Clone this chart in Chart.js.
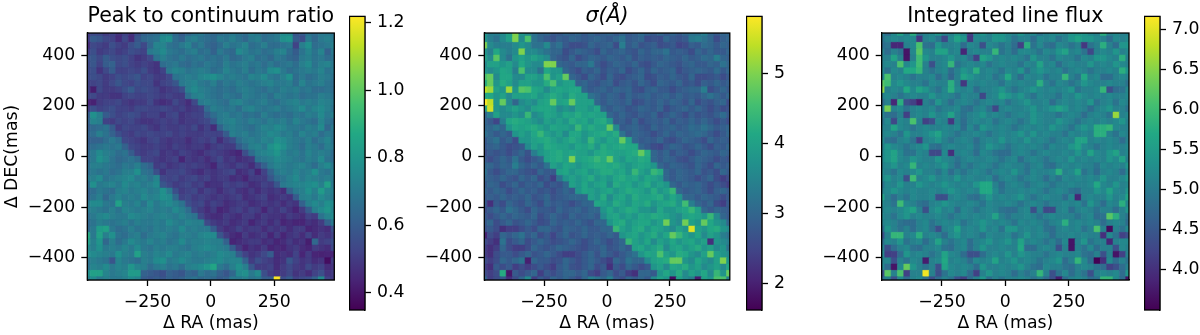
<!DOCTYPE html>
<html>
<head>
<meta charset="utf-8">
<title>Line maps</title>
<script src="https://cdn.jsdelivr.net/npm/chart.js@4"></script>
<style>
    body { margin: 0; background: #fff; }
    #page { position: relative; width: 1200px; height: 335px; overflow: hidden; }
    canvas { position: absolute; top: 0; }
</style>
</head>
<body>
<div id="page"></div>
<script>
// Cell values, top row first. Ratio is in hundredths, sigma and flux in tenths.
const ratioRows = [
[50,54,54,50,52,48,52,48,56,62,64,66,72,72,64,60,64,68,70,66,64,66,68,70,68,66,72,70,66,68,70,76,76,58,60,68,66,70,70,68],
[50,60,58,54,52,46,54,46,58,64,66,68,76,78,66,62,70,72,68,66,64,70,68,72,68,64,70,72,66,68,70,78,80,60,56,70,64,70,72,70],
[46,54,52,50,56,52,50,56,60,54,64,74,74,68,66,70,74,66,70,64,62,66,72,68,70,74,66,68,72,66,66,68,70,52,72,78,66,68,70,72],
[50,56,50,52,54,50,52,56,54,52,70,72,76,70,68,66,70,72,66,68,62,70,66,64,76,72,68,70,66,68,72,74,66,60,68,74,68,74,62,70],
[56,58,54,60,56,54,56,52,48,50,54,68,72,68,66,70,66,68,70,66,68,66,70,64,66,70,72,66,68,64,70,68,64,62,70,72,68,70,66,68],
[54,58,52,60,62,54,56,52,50,52,50,48,66,68,70,66,64,68,66,70,68,66,72,68,70,72,68,70,66,70,66,68,70,66,72,76,68,72,74,70],
[54,56,48,54,60,52,52,54,52,56,50,48,52,70,74,72,68,70,72,70,66,68,74,70,68,72,66,70,68,76,78,70,66,68,70,72,70,74,68,70],
[54,56,54,50,52,56,54,56,58,52,54,50,50,54,68,70,72,70,74,76,78,74,70,72,70,68,74,72,76,70,68,72,78,66,70,66,68,72,70,68],
[52,52,54,50,54,58,54,52,56,54,54,48,52,54,58,70,72,74,70,68,72,66,70,68,72,70,68,70,72,74,70,70,72,66,74,68,70,72,68,66],
[52,42,54,50,50,52,56,60,54,56,54,52,48,50,52,56,72,76,72,70,68,66,68,66,70,72,70,68,66,70,68,72,70,72,68,70,66,66,68,66],
[52,54,50,50,48,48,52,54,52,52,54,52,50,52,50,50,66,72,74,70,68,66,70,68,66,72,70,68,70,66,72,70,68,70,66,68,68,72,70,68],
[44,43,50,52,52,54,50,48,50,50,54,48,46,48,54,50,46,54,70,72,70,68,66,72,74,70,68,70,72,68,66,70,72,74,70,72,70,74,72,70],
[50,56,52,54,56,52,52,50,54,54,52,52,54,52,50,52,48,50,52,66,72,70,68,70,66,72,74,70,68,70,72,68,70,72,76,70,74,76,72,68],
[60,78,72,60,56,52,54,56,54,50,52,52,48,52,54,48,50,52,52,60,66,70,72,68,70,66,68,66,72,68,66,68,66,70,68,72,70,76,70,72],
[62,74,72,52,50,54,52,54,50,48,48,50,52,50,52,48,50,50,52,54,60,70,72,74,70,68,72,70,68,72,70,72,68,74,70,68,66,74,68,66],
[60,64,66,68,60,50,54,52,52,54,50,48,52,50,50,52,50,54,48,52,46,62,70,72,70,68,66,70,74,72,76,74,70,70,68,72,70,76,64,70],
[62,66,72,68,62,56,52,50,54,52,54,52,52,54,50,52,50,50,50,52,52,52,60,72,70,72,68,70,72,76,74,70,72,68,74,70,72,66,70,68],
[60,62,62,66,70,66,54,52,50,48,52,54,50,48,50,50,46,50,52,50,54,46,52,56,66,70,72,70,74,72,78,76,72,70,68,72,66,70,74,68],
[62,66,68,70,68,70,62,54,52,50,50,52,50,48,52,50,48,50,50,46,50,52,50,50,60,66,72,74,70,78,82,78,72,70,66,72,70,66,72,70],
[64,70,76,72,70,66,68,60,52,50,52,54,48,50,48,52,50,48,46,50,52,50,48,46,44,56,66,72,74,76,80,74,70,72,68,74,70,72,70,66],
[64,70,78,74,68,64,66,68,64,52,52,50,48,50,52,44,50,48,50,46,50,54,48,50,46,48,50,68,70,72,76,74,72,70,68,72,70,76,68,66],
[66,72,72,70,68,66,70,68,72,66,62,50,52,48,50,52,50,52,50,48,44,52,50,48,52,50,46,54,62,70,74,72,70,72,74,70,66,72,76,70],
[66,70,68,70,66,68,72,72,78,68,66,56,48,52,52,54,50,48,46,50,48,50,52,54,46,48,52,44,52,62,70,72,70,74,70,72,78,70,68,72],
[70,72,76,68,70,72,74,76,70,72,68,74,54,52,54,50,52,54,50,52,48,50,50,46,48,44,50,50,50,58,66,68,72,76,70,74,72,70,72,70],
[66,78,70,72,74,70,76,72,74,70,72,76,58,54,50,52,54,50,52,46,48,48,52,50,52,50,46,48,52,50,58,70,72,74,74,76,78,72,84,70],
[62,66,70,68,66,72,74,70,72,74,70,72,78,70,56,50,52,54,48,52,50,46,50,52,48,46,50,46,50,48,50,46,62,70,72,78,72,82,74,72],
[62,68,72,64,70,74,70,72,70,76,72,74,78,76,64,52,54,50,52,50,48,50,48,50,52,46,48,50,52,46,48,50,48,60,72,74,70,76,72,70],
[70,76,76,70,68,84,72,70,74,68,76,70,74,76,72,68,56,52,54,48,52,50,46,48,50,50,46,48,50,48,50,46,50,48,62,72,76,72,78,76],
[70,72,70,68,72,68,74,72,70,72,74,70,72,70,76,72,66,54,50,46,50,44,46,50,52,48,52,50,44,50,48,52,48,44,50,60,72,76,80,74],
[66,70,74,76,72,70,70,76,74,72,70,72,74,72,70,74,70,68,54,48,46,46,50,48,46,50,50,46,50,48,48,46,50,48,46,52,50,68,74,76],
[64,68,72,70,68,70,72,68,72,70,70,72,70,76,72,70,74,72,72,54,50,48,50,46,48,50,44,48,50,46,50,44,46,44,44,48,46,50,62,70],
[64,70,82,84,70,66,68,72,68,70,68,72,70,72,70,76,70,72,70,70,60,50,46,48,52,48,50,50,46,50,48,50,46,50,50,44,46,48,46,56],
[88,70,84,72,78,68,66,70,72,66,70,72,74,70,68,72,72,70,74,76,76,58,50,46,44,50,46,48,50,44,50,44,48,50,46,52,46,50,48,52],
[84,72,80,64,72,66,70,76,72,70,74,70,72,68,70,76,70,72,72,74,72,72,62,44,46,48,50,50,46,48,44,46,50,46,48,42,64,50,52,56],
[76,72,78,70,72,70,74,70,76,70,68,72,70,72,72,70,68,72,74,76,74,72,70,60,50,44,48,46,50,44,46,44,48,50,46,44,50,48,46,54],
[78,76,74,72,70,78,72,70,84,72,70,74,72,76,70,72,74,70,72,70,72,76,74,72,60,52,48,50,54,60,46,48,46,52,44,50,44,43,44,44],
[68,72,70,68,58,74,70,68,66,72,70,76,78,70,72,76,72,70,70,72,74,76,72,74,74,62,50,56,52,50,46,48,58,52,48,50,46,48,38,50],
[68,74,72,76,70,74,72,80,74,72,66,70,72,68,70,66,72,74,76,80,86,70,66,72,78,72,58,50,50,52,46,50,54,50,48,54,50,52,46,48],
[78,84,84,74,70,72,74,82,82,62,60,58,56,62,60,58,64,62,70,66,68,62,58,64,76,78,70,76,56,50,48,50,54,48,50,46,52,56,48,50],
[72,76,70,72,70,70,72,76,74,60,58,60,58,62,60,62,66,68,64,66,64,60,62,70,70,72,68,70,60,60,122,56,60,52,54,56,62,76,52,50]
];
const sigmaRows = [
[38,34,34,36,40,50,38,36,32,30,30,28,28,30,29,30,28,30,28,29,30,28,30,28,29,31,29,28,30,28,30,28,30,32,32,34,30,28,30,30],
[38,34,32,36,40,50,36,46,32,30,28,27,29,28,30,29,28,29,30,29,28,30,32,28,29,30,26,27,26,30,28,27,28,33,34,32,30,26,29,30],
[50,36,34,34,34,36,38,36,32,32,36,30,32,28,26,26,27,30,28,29,30,26,34,28,30,27,28,29,26,27,28,25,26,29,28,31,30,28,30,29],
[38,34,41,36,34,36,50,36,36,34,32,30,30,26,28,30,29,28,26,30,28,29,30,28,27,30,28,30,30,32,28,29,28,26,30,28,30,28,28,30],
[40,36,47,36,32,38,40,38,40,38,36,30,28,27,30,26,28,30,29,28,30,29,28,30,27,29,28,29,28,30,29,28,30,28,29,31,30,34,30,29],
[36,40,40,38,40,36,41,38,36,36,50,50,30,29,28,30,30,33,28,26,28,30,29,28,30,27,26,28,30,29,28,27,29,30,28,28,30,29,32,30],
[38,36,38,41,40,34,46,36,36,32,41,38,38,30,28,26,29,28,30,27,29,28,30,26,28,30,27,30,28,29,30,26,28,29,30,29,28,31,28,30],
[46,48,36,41,41,36,36,40,40,38,46,38,40,48,30,28,26,30,28,26,30,27,26,28,29,30,26,27,29,28,30,28,27,30,26,26,27,28,26,28],
[42,48,38,42,40,36,40,40,38,38,42,46,38,40,40,29,30,28,27,29,30,26,28,29,27,30,28,26,30,29,28,30,27,28,26,29,28,30,28,29],
[54,52,40,38,52,38,47,46,41,40,36,40,41,40,41,41,30,28,29,30,28,30,29,30,27,26,29,30,28,28,26,28,29,30,30,34,26,28,30,28],
[41,41,38,40,36,40,40,40,41,38,40,42,40,38,42,40,40,32,30,28,30,29,27,30,28,29,30,28,29,30,28,30,28,29,28,30,32,30,28,30],
[58,54,38,48,36,30,36,38,36,40,41,48,40,41,48,40,40,40,30,28,30,29,28,30,26,27,29,28,30,28,30,29,27,30,26,28,27,29,30,26],
[40,55,38,36,38,40,38,36,40,41,41,40,36,38,36,40,40,38,41,30,28,30,29,27,28,30,29,28,30,26,28,29,30,28,30,28,26,28,26,27],
[30,34,40,36,36,38,36,44,36,38,41,40,38,41,40,42,40,41,40,40,30,28,30,28,27,29,28,30,26,28,30,28,26,29,27,28,27,29,31,28],
[30,28,25,34,41,42,41,40,38,36,40,38,40,38,42,40,41,38,41,42,38,28,29,27,30,26,28,29,28,30,27,29,28,30,28,30,28,26,28,26],
[30,30,32,30,38,41,40,41,42,40,38,41,40,40,38,44,40,42,40,40,48,36,28,29,30,28,27,30,28,29,30,28,29,31,30,32,30,28,29,30],
[32,30,28,30,28,38,40,38,41,44,40,38,40,36,41,41,38,40,41,42,40,42,32,28,30,29,28,26,28,30,28,30,29,30,31,30,28,26,28,30],
[28,30,32,28,30,26,38,38,40,41,42,40,38,40,42,40,38,44,40,38,41,40,48,40,30,28,29,28,30,27,26,28,30,29,28,26,30,28,29,28],
[28,29,30,28,26,27,28,36,40,38,42,41,40,40,38,41,40,42,38,42,40,41,42,41,41,30,28,26,25,28,30,29,27,28,30,28,26,29,28,30],
[26,28,27,28,26,28,30,27,34,38,40,41,42,40,41,40,40,38,41,42,41,40,40,41,42,48,42,30,28,30,27,29,28,26,28,30,29,28,30,29],
[28,26,28,30,28,32,28,26,28,30,40,41,42,40,50,40,41,42,44,42,48,40,38,41,40,42,41,30,28,30,29,27,26,28,30,29,28,26,28,27],
[30,30,28,30,29,34,30,28,30,28,32,40,38,41,40,38,40,41,42,42,41,42,40,38,40,41,40,38,30,28,30,29,28,27,30,28,26,30,28,29],
[32,28,26,28,30,30,28,27,26,30,28,28,40,41,38,40,41,38,40,42,42,40,41,38,44,40,38,44,42,30,28,30,29,28,30,27,28,26,30,28],
[30,29,28,30,28,27,30,28,30,26,28,24,32,38,40,38,40,42,38,40,38,41,42,40,41,38,41,40,38,30,28,30,29,28,26,28,30,26,24,26],
[28,30,29,26,28,30,27,29,28,30,26,28,27,30,40,38,41,38,40,41,36,42,40,41,38,40,42,38,40,38,30,28,30,29,30,28,26,28,26,24],
[30,28,30,29,26,28,30,28,29,27,28,26,28,30,28,38,41,40,38,40,41,38,40,42,41,40,38,42,38,40,44,30,28,29,30,28,26,29,30,28],
[28,29,28,30,28,29,28,30,27,28,30,27,28,29,30,30,30,40,38,42,36,40,41,38,42,40,40,41,42,38,41,38,30,30,28,30,29,28,26,28],
[28,22,28,26,30,28,27,30,28,26,30,28,29,28,26,28,30,30,41,40,38,42,40,38,41,40,42,38,40,41,42,38,45,34,30,28,30,26,24,28],
[26,28,30,28,32,30,28,26,30,28,28,27,30,28,29,30,28,30,30,38,41,38,40,42,41,38,38,36,41,38,38,40,41,44,40,30,28,30,29,28],
[28,26,28,30,28,30,29,28,30,26,28,30,28,27,30,28,29,30,28,36,40,41,38,40,38,41,40,42,41,40,38,36,40,41,40,38,44,36,30,28],
[28,30,26,28,30,27,28,30,28,26,27,30,28,29,28,30,28,27,30,30,38,41,42,38,40,41,41,38,40,49,38,36,49,40,38,48,41,38,36,30],
[27,28,26,22,24,24,26,28,26,30,30,28,27,30,29,28,30,28,28,30,30,44,40,38,41,42,38,41,40,38,36,40,38,56,40,38,41,42,38,36],
[20,26,24,30,28,30,32,28,30,26,28,25,28,30,27,28,30,28,29,28,30,28,38,40,41,38,40,42,38,41,48,44,40,38,41,36,40,38,34,32],
[26,24,22,32,26,28,30,26,28,30,28,26,27,28,30,28,26,28,30,28,26,28,30,44,40,38,41,36,40,38,41,38,40,41,38,40,22,38,36,34],
[24,22,24,30,26,24,24,26,30,28,27,28,30,29,28,27,26,28,28,30,27,28,30,28,40,41,38,40,42,36,40,41,38,40,42,38,40,36,38,32],
[24,22,26,28,28,26,28,30,27,28,30,28,26,24,24,26,28,30,27,30,28,26,28,30,32,38,41,40,46,40,38,42,41,38,36,40,48,40,38,36],
[26,24,26,30,28,30,32,20,30,28,28,26,27,30,28,26,28,30,28,26,24,30,28,32,30,30,36,40,41,42,48,48,38,36,41,38,36,40,50,38],
[24,22,28,26,28,24,26,24,26,28,26,24,28,30,27,26,28,30,26,28,22,28,26,30,28,26,28,38,40,36,41,40,42,38,40,36,38,40,36,41],
[26,24,26,42,19,28,26,28,30,24,28,26,28,30,30,28,30,26,24,28,30,26,28,24,22,30,30,28,38,41,38,42,36,40,38,41,36,44,38,48],
[30,24,26,28,22,26,30,36,24,28,26,30,28,30,28,26,30,34,32,30,34,28,26,30,28,30,28,36,40,38,18,40,36,34,20,40,38,46,46,34]
];
const fluxRows = [
[51,48,52,56,51,58,49,51,52,54,51,51,54,52,42,52,54,51,54,54,52,51,54,51,52,49,51,52,52,51,54,54,54,52,51,58,51,52,51,51],
[49,51,52,51,52,52,41,51,52,49,43,52,56,54,41,52,52,51,54,54,52,49,51,51,48,52,51,52,49,51,54,56,54,54,52,51,48,52,51,52],
[48,49,39,39,51,52,61,49,48,54,51,51,52,48,52,51,44,52,51,49,51,48,42,58,49,52,49,48,52,51,49,51,41,49,51,58,51,48,54,54],
[51,48,51,49,37,52,62,52,51,56,56,51,52,39,51,52,51,51,59,49,51,48,52,52,51,49,52,51,54,56,51,52,49,43,51,52,51,54,51,52],
[51,51,56,51,37,51,60,54,51,51,52,54,51,52,49,42,56,54,51,52,51,52,51,49,54,51,51,49,52,51,51,49,52,51,54,54,52,51,58,51],
[51,52,51,61,52,54,60,51,44,51,52,59,49,51,52,51,52,49,51,52,51,51,49,52,51,56,51,52,48,51,52,51,51,54,51,52,51,54,52,51],
[52,49,52,51,57,57,59,51,49,51,52,48,51,54,52,58,51,52,51,49,52,51,54,49,52,54,52,51,52,49,51,52,51,49,51,51,52,51,58,54],
[52,61,51,52,51,49,51,51,52,48,51,47,51,56,54,52,51,52,49,51,57,51,48,52,51,52,49,51,51,59,51,49,57,51,52,48,48,51,52,51],
[62,60,52,54,52,51,51,49,52,51,51,58,51,41,52,51,52,51,51,49,52,51,52,51,51,58,51,49,52,51,49,51,54,52,51,51,52,51,51,49],
[65,51,52,51,57,52,56,54,51,49,52,58,52,51,52,48,51,51,52,54,51,49,51,52,54,52,51,52,51,52,54,49,51,51,52,59,44,48,49,52],
[51,52,51,49,51,52,51,51,54,51,52,51,49,52,51,51,43,51,52,56,54,52,54,51,49,52,51,51,49,52,51,54,52,51,52,51,52,51,51,52],
[48,51,39,58,44,42,38,51,49,54,51,48,51,52,51,49,51,52,51,52,49,51,52,54,51,51,52,48,51,52,51,52,51,54,49,51,52,49,52,51],
[52,64,51,52,49,51,52,51,52,49,51,51,52,49,48,51,52,49,43,51,52,51,51,52,54,51,52,54,56,54,51,52,51,48,51,52,54,51,51,49],
[51,49,48,51,42,51,52,51,54,51,52,56,51,49,51,52,54,51,52,51,49,51,52,51,54,52,51,51,49,51,52,51,48,51,52,51,49,66,51,52],
[49,52,43,52,51,61,51,42,44,52,51,41,51,48,51,52,51,52,49,51,52,51,49,51,54,52,51,51,54,52,51,49,51,52,51,52,51,52,54,51],
[51,51,56,52,51,49,51,52,51,51,52,51,52,48,52,49,54,52,51,52,51,49,51,52,51,52,51,54,52,51,49,52,54,52,58,58,59,52,51,51],
[51,52,51,49,54,51,51,52,54,56,52,51,49,51,51,52,51,49,51,52,51,52,54,51,54,51,52,51,51,49,52,51,52,51,58,58,51,49,52,51],
[52,49,48,51,52,49,42,51,52,54,51,49,51,52,51,48,51,52,51,54,51,52,51,54,51,52,51,49,51,52,51,56,56,51,52,51,52,51,48,51],
[51,54,52,51,49,51,52,54,49,48,51,52,51,51,52,49,51,54,52,51,49,51,52,51,52,51,49,52,51,51,54,56,52,51,49,51,52,51,51,52],
[52,54,56,52,49,49,52,51,43,43,52,40,51,52,51,48,52,51,49,48,48,51,52,51,49,51,52,51,51,52,51,54,51,56,52,51,54,56,51,52],
[52,54,56,52,51,54,52,51,51,54,52,51,49,51,52,51,51,52,51,49,51,52,48,51,52,51,49,51,52,51,54,51,52,51,52,51,54,52,56,51],
[51,52,54,51,52,59,51,52,51,52,54,51,48,51,49,51,52,51,49,51,52,51,51,49,51,52,49,48,51,52,51,52,51,51,49,52,51,52,51,54],
[52,51,49,52,51,52,54,51,51,49,52,48,51,49,51,52,51,49,51,52,51,54,51,49,52,51,51,52,58,51,52,56,49,51,48,51,52,51,48,52],
[52,54,51,52,44,60,51,52,54,51,52,51,54,51,52,51,51,52,48,51,52,51,49,51,52,51,48,51,49,52,51,52,51,52,51,54,51,51,52,54],
[49,52,51,54,51,51,54,52,51,52,54,52,51,52,51,54,57,57,51,48,51,52,51,49,51,52,51,49,51,51,52,51,51,52,57,52,51,54,51,52],
[51,52,54,52,51,52,51,51,52,51,52,54,52,51,52,51,57,57,52,49,51,51,52,51,52,51,49,51,52,51,49,48,51,51,54,52,56,52,51,54],
[56,51,48,51,49,52,51,51,52,44,44,51,52,51,49,48,51,54,51,52,51,52,54,51,49,51,52,51,51,48,52,39,51,52,51,51,54,51,52,56],
[52,51,49,60,52,51,49,48,51,52,54,52,51,51,52,51,49,52,51,51,52,51,49,51,52,51,49,51,51,52,51,52,49,54,51,48,52,51,58,52],
[51,52,51,52,54,56,51,44,52,54,51,52,48,52,51,49,51,52,51,49,48,48,51,52,44,51,43,43,51,52,48,51,52,51,49,51,51,48,51,54],
[52,51,49,52,54,51,52,51,51,52,51,49,51,52,51,52,51,52,56,51,49,51,51,52,51,49,51,52,51,51,51,49,51,52,48,49,62,58,51,49],
[51,52,51,49,48,48,51,52,49,51,52,51,52,49,51,52,54,52,51,52,51,49,52,51,52,51,49,51,52,58,51,52,51,52,51,48,51,52,51,48],
[48,54,51,49,51,48,51,52,49,44,51,52,56,51,52,51,54,51,52,49,54,54,51,52,51,52,49,48,51,52,51,52,49,51,61,51,36,51,49,52],
[44,51,59,59,51,52,58,51,52,51,48,52,54,51,52,51,49,52,51,51,52,49,51,54,51,52,51,48,51,51,52,51,52,51,51,40,52,49,42,44],
[48,52,51,54,49,51,52,48,51,56,51,49,51,52,48,51,52,54,51,52,54,51,56,51,52,51,49,51,48,52,37,51,54,49,51,51,39,51,52,52],
[51,44,48,51,52,49,48,51,51,52,49,48,51,52,48,51,54,51,51,52,51,51,57,48,48,51,52,51,44,51,37,51,49,52,48,51,51,44,52,51],
[52,42,42,48,54,51,52,51,49,51,56,52,51,48,44,44,48,51,52,51,54,51,54,52,51,51,49,51,52,51,51,52,49,48,51,44,51,37,42,51],
[51,52,44,51,49,52,51,38,51,52,57,51,52,51,48,52,51,52,56,51,52,54,51,52,51,49,51,52,54,48,51,59,52,48,35,40,52,48,51,49],
[52,48,37,52,63,54,51,49,51,44,56,52,51,52,51,48,54,51,51,52,51,52,54,51,49,48,52,51,51,49,48,51,52,51,49,48,42,44,48,51],
[44,62,51,61,42,51,51,71,51,44,49,52,51,52,48,42,51,54,51,52,51,48,51,49,51,59,51,44,49,52,48,51,49,44,51,52,51,52,48,54],
[48,51,44,52,48,51,52,49,44,48,51,49,44,42,48,51,54,48,51,49,51,51,52,51,49,51,48,44,38,48,51,52,51,48,49,59,59,52,48,37]
];

const xTicks = [-250, 0, 250];
const yTicks = [-400, -200, 0, 200, 400];
const ratioBarTicks = [0.4, 0.6, 0.8, 1.0, 1.2];
const sigmaBarTicks = [2, 3, 4, 5];
const fluxBarTicks = [4.0, 4.5, 5.0, 5.5, 6.0, 6.5, 7.0];

const viridisStops = ["#440154", "#482475", "#414487", "#355f8d", "#2a788e", "#21918c", "#22a884", "#44bf70", "#7ad151", "#bddf26", "#fde725"];

const AXIS_EDGE = 487.5;
const CELL_SIZE = 25;
const FONT_SIZE = 17.3;

Chart.defaults.font.family = "'DejaVu Sans'";
Chart.defaults.font.size = FONT_SIZE;
Chart.defaults.color = "#000";

// the library only draws a border on the side of each axis, so close the box here
const framePlugin = {
    id: "frame",
    afterDraw(chart) {
        const { ctx, chartArea: a } = chart;
        ctx.save();
        ctx.strokeStyle = "#000";
        ctx.lineWidth = 1.3;
        ctx.strokeRect(a.left, a.top, a.right - a.left, a.bottom - a.top);
        ctx.restore();
    }
};

function addCanvas(left, width) {
    const canvas = document.createElement("canvas");
    canvas.width = width;
    canvas.height = 335;
    canvas.style.left = left + "px";
    canvas.style.width = width + "px";
    canvas.style.height = "335px";
    document.getElementById("page").appendChild(canvas);
    return canvas;
}

function hexToRgb(hex) {
    return [1, 3, 5].map(i => parseInt(hex.slice(i, i + 2), 16));
}

function viridis(t) {
    const pos = Math.min(Math.max(t, 0), 1) * (viridisStops.length - 1);
    const i = Math.min(Math.floor(pos), viridisStops.length - 2);
    const a = hexToRgb(viridisStops[i]);
    const b = hexToRgb(viridisStops[i + 1]);
    const mix = a.map((v, k) => Math.round(v + (b[k] - v) * (pos - i)));
    return `rgb(${mix[0]},${mix[1]},${mix[2]})`;
}

function fixedTicks(values) {
    return scale => {
        scale.ticks = values.map(value => ({ value }));
    };
}

function minusLabel(value) {
    return String(value).replace("-", "\u2212");
}

function drawPanel(cfg) {
    const points = [];
    cfg.rows.forEach((row, r) => {
        row.forEach((v, c) => {
            points.push({
                x: -AXIS_EDGE + c * CELL_SIZE,
                y: AXIS_EDGE - r * CELL_SIZE,
                v: v * cfg.unit
            });
        });
    });
    const cellColor = ctx => viridis((ctx.raw.v - cfg.min) / (cfg.max - cfg.min));

    new Chart(addCanvas(cfg.left, cfg.width), {
        type: "scatter",
        data: {
            datasets: [{
                data: points,
                pointStyle: "rect",
                pointRadius: 4.7,
                pointBorderWidth: 0.5,
                backgroundColor: cellColor,
                borderColor: cellColor,
                clip: 0
            }]
        },
        options: {
            responsive: false,
            animation: false,
            events: [],
            layout: { padding: { right: cfg.paddingRight } },
            plugins: {
                legend: { display: false },
                tooltip: { enabled: false },
                title: {
                    display: true,
                    text: cfg.title,
                    fullSize: false,
                    font: { size: 20.6, weight: "normal", style: cfg.titleStyle || "normal" },
                    padding: { top: 4, bottom: 4.3 }
                }
            },
            scales: {
                x: {
                    type: "linear",
                    min: -AXIS_EDGE,
                    max: AXIS_EDGE,
                    afterBuildTicks: fixedTicks(xTicks),
                    afterFit: scale => { scale.height = 55; },
                    ticks: { callback: minusLabel, maxRotation: 0, padding: 6 },
                    grid: { drawOnChartArea: false, tickLength: 6, tickColor: "#000", tickWidth: 1.3 },
                    border: { color: "#000", width: 1.3 },
                    title: { display: true, text: "\u0394 RA (mas)", font: { size: FONT_SIZE }, padding: { top: 0, bottom: 1.5 } }
                },
                y: {
                    type: "linear",
                    min: -AXIS_EDGE,
                    max: AXIS_EDGE,
                    afterBuildTicks: fixedTicks(yTicks),
                    afterFit: scale => { scale.width = cfg.axisWidth; },
                    ticks: { callback: minusLabel, padding: 6 },
                    grid: { drawOnChartArea: false, tickLength: 6, tickColor: "#000", tickWidth: 1.3 },
                    border: { color: "#000", width: 1.3 },
                    title: { display: !!cfg.yTitle, text: cfg.yTitle, font: { size: FONT_SIZE }, padding: { top: 2, bottom: 0 } }
                }
            }
        },
        plugins: [framePlugin]
    });
}

function drawColorbar(cfg) {
    new Chart(addCanvas(cfg.left, 60), {
        type: "bar",
        data: {
            labels: [""],
            datasets: [{
                data: [[cfg.min, cfg.max]],
                barPercentage: 1,
                categoryPercentage: 1,
                backgroundColor: ctx => {
                    const area = ctx.chart.chartArea;
                    if (!area) return viridisStops[0];
                    const g = ctx.chart.ctx.createLinearGradient(0, area.bottom, 0, area.top);
                    viridisStops.forEach((c, i) => g.addColorStop(i / (viridisStops.length - 1), c));
                    return g;
                }
            }]
        },
        options: {
            responsive: false,
            animation: false,
            events: [],
            layout: { padding: { top: 3.3, bottom: 25, left: 0.5 } },
            plugins: { legend: { display: false }, tooltip: { enabled: false } },
            scales: {
                x: { display: false },
                y: {
                    position: "right",
                    min: cfg.min,
                    max: cfg.max,
                    afterBuildTicks: fixedTicks(cfg.ticks),
                    afterFit: scale => { scale.width = 44; },
                    ticks: { callback: v => v.toFixed(cfg.decimals), padding: 6 },
                    grid: { drawOnChartArea: false, tickLength: 6, tickColor: "#000", tickWidth: 1.3 },
                    border: { color: "#000", width: 1.3 }
                }
            }
        },
        plugins: [framePlugin]
    });
}

document.addEventListener("DOMContentLoaded", () => {
    drawPanel({
        rows: ratioRows, unit: 0.01, min: 0.349, max: 1.219,
        title: "Peak to continuum ratio", yTitle: "\u0394 DEC(mas)",
        left: 0, width: 345, axisWidth: 87.3, paddingRight: 10.7
    });
    drawColorbar({ left: 349, min: 0.349, max: 1.219, ticks: ratioBarTicks, decimals: 1 });

    drawPanel({
        rows: sigmaRows, unit: 0.1, min: 1.628, max: 5.81,
        title: "\u03c3(\u00c5)", titleStyle: "italic", yTitle: "",
        left: 425, width: 310, axisWidth: 59.3, paddingRight: 3.3
    });
    drawColorbar({ left: 746.2, min: 1.628, max: 5.81, ticks: sigmaBarTicks, decimals: 0 });

    drawPanel({
        rows: fluxRows, unit: 0.1, min: 3.5, max: 7.167,
        title: "Integrated line flux", yTitle: "",
        left: 820, width: 315, axisWidth: 61.7, paddingRight: 6
    });
    drawColorbar({ left: 1143.5, min: 3.5, max: 7.167, ticks: fluxBarTicks, decimals: 1 });
});
</script>
</body>
</html>
